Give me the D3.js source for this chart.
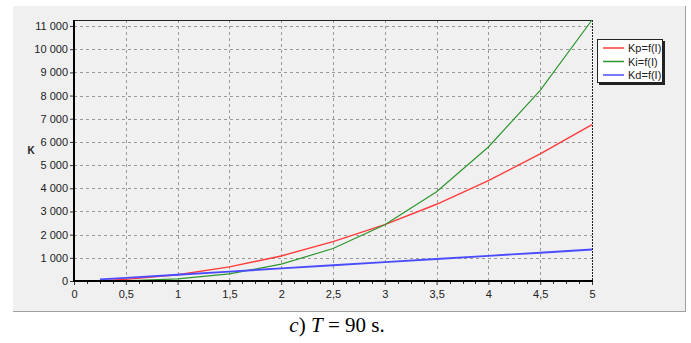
<!DOCTYPE html>
<html><head><meta charset="utf-8">
<script src="https://cdn.jsdelivr.net/npm/d3@7/dist/d3.min.js"></script>
<style>body{margin:0;background:#fff}svg{display:block}</style>
</head><body>
<script>
// ---- data ----
const currents = [0.25, 0.5, 1, 1.5, 2, 2.5, 3, 3.5, 4, 4.5, 5];
const kp = [17, 68, 270, 610, 1080, 1700, 2430, 3310, 4330, 5480, 6750];
const ki = [1, 11, 90, 305, 725, 1400, 2430, 3850, 5780, 8220, 11260];
const kd = [68, 135, 270, 405, 545, 680, 815, 950, 1085, 1220, 1360];
const seriesNames = ["Kp=f(I)", "Ki=f(I)", "Kd=f(I)"];
const xTicks = [0, 0.5, 1, 1.5, 2, 2.5, 3, 3.5, 4, 4.5, 5];
const yTicks = [0, 1000, 2000, 3000, 4000, 5000, 6000, 7000, 8000, 9000, 10000, 11000];
const yMax = 11260;
const axisTitle = "K";

const W = 691, H = 343;
const svg = d3.select("body").append("svg").attr("width", W).attr("height", H);
const font = "'Liberation Sans', Arial, sans-serif";

// panel
svg.append("rect").attr("x", 13).attr("y", 6).attr("width", 673).attr("height", 306).attr("fill", "#f0f0f0");
svg.append("line").attr("x1", 685.5).attr("x2", 685.5).attr("y1", 6).attr("y2", 312).attr("stroke", "#a0a0a0");
svg.append("line").attr("x1", 13).attr("x2", 686).attr("y1", 311.5).attr("y2", 311.5).attr("stroke", "#a0a0a0");

const L = 74, R = 592, T = 20, B = 281;
const x = d3.scaleLinear().domain([0, 5]).range([L, R]);
const y = d3.scaleLinear().domain([0, yMax]).range([B, T]);

// grid
const g = svg.append("g");
g.selectAll(".vg").data(xTicks.slice(1, -1)).join("line")
  .attr("x1", d => Math.round(x(d)) + 0.5).attr("x2", d => Math.round(x(d)) + 0.5)
  .attr("y1", T).attr("y2", B).attr("stroke", "#999").attr("stroke-dasharray", "3,3");
g.selectAll(".hg").data(yTicks.slice(1)).join("line")
  .attr("x1", L).attr("x2", R).attr("y1", d => Math.round(y(d)) + 0.5).attr("y2", d => Math.round(y(d)) + 0.5)
  .attr("stroke", "#999").attr("stroke-dasharray", "3,3");

// frame: top solid, right dashed
svg.append("line").attr("x1", L).attr("x2", R).attr("y1", T + 0.5).attr("y2", T + 0.5).attr("stroke", "#222");
svg.append("line").attr("x1", R + 0.5).attr("x2", R + 0.5).attr("y1", T).attr("y2", B).attr("stroke", "#222").attr("stroke-dasharray", "2,1");

// series
const line = d3.line().x(d => x(d[0])).y(d => y(d[1]));
const series = [
  {vals: kp, color: "#ff3b3b", w: 1.4},
  {vals: ki, color: "#2e962e", w: 1.2},
  {vals: kd, color: "#4c4cff", w: 1.9}
];
svg.append("clipPath").attr("id", "c").append("rect").attr("x", L).attr("y", T - 1).attr("width", R - L + 1).attr("height", B - T + 1);
svg.append("g").attr("clip-path", "url(#c)").selectAll("path").data(series).join("path")
  .attr("d", s => line(currents.map((c, i) => [c, s.vals[i]])))
  .attr("fill", "none").attr("stroke", s => s.color).attr("stroke-width", s => s.w);

// axes
const xAxis = d3.axisBottom(x).tickValues(xTicks).tickSize(4).tickPadding(5)
  .tickFormat(d => String(d).replace(".", ","));
const gx = svg.append("g").attr("transform", `translate(0,${B})`).call(xAxis);
const minor = d3.range(0, 5.0001, 0.125).filter(v => Math.abs(v * 2 - Math.round(v * 2)) > 1e-6);
svg.append("g").selectAll("line").data(minor).join("line")
  .attr("x1", d => Math.round(x(d)) + 0.5).attr("x2", d => Math.round(x(d)) + 0.5)
  .attr("y1", B).attr("y2", B + 3).attr("stroke", "#333");

const fmt = d => d3.format(",")(d).replace(/,/g, " ");
const yAxis = d3.axisLeft(y).tickValues(yTicks).tickSize(4).tickPadding(2).tickFormat(fmt);
const gy = svg.append("g").attr("transform", `translate(${L},0)`).call(yAxis);

[gx, gy].forEach(a => {
  a.select(".domain").remove();
  a.selectAll("text").attr("font-family", font).attr("font-size", 11).attr("fill", "#222");
  a.selectAll(".tick line").attr("stroke", "#333");
});
svg.append("line").attr("x1", L).attr("x2", L).attr("y1", T).attr("y2", B + 1).attr("stroke", "#000").attr("stroke-width", 2);
svg.append("line").attr("x1", L - 1).attr("x2", R + 1).attr("y1", B).attr("y2", B).attr("stroke", "#000").attr("stroke-width", 2);

svg.append("text").attr("x", 31).attr("y", 154).attr("text-anchor", "middle")
  .attr("font-family", font).attr("font-size", 10).attr("font-weight", "bold").attr("fill", "#222").text(axisTitle);

// legend
const lg = svg.append("g");
lg.append("rect").attr("x", 599).attr("y", 41).attr("width", 66).attr("height", 44).attr("fill", "#222");
lg.append("rect").attr("x", 597.5).attr("y", 39.5).attr("width", 65).attr("height", 43).attr("fill", "#fff").attr("stroke", "#222");
series.forEach((s, i) => {
  const yy = 48 + i * 13.5;
  lg.append("line").attr("x1", 603).attr("x2", 624).attr("y1", yy).attr("y2", yy).attr("stroke", s.color).attr("stroke-width", 1.5);
  lg.append("text").attr("x", 628).attr("y", yy + 4).attr("font-family", font).attr("font-size", 11).attr("fill", "#222").text(seriesNames[i]);
});

// caption
const cap = svg.append("text").attr("x", 337).attr("y", 332).attr("text-anchor", "middle")
  .attr("font-family", "'Liberation Serif', 'DejaVu Serif', serif").attr("font-size", 21).attr("fill", "#000");
cap.append("tspan").attr("font-style", "italic").text("c");
cap.append("tspan").text(") ");
cap.append("tspan").attr("font-style", "italic").text("T");
cap.append("tspan").text(" = 90 s.");
</script>
</body></html>
